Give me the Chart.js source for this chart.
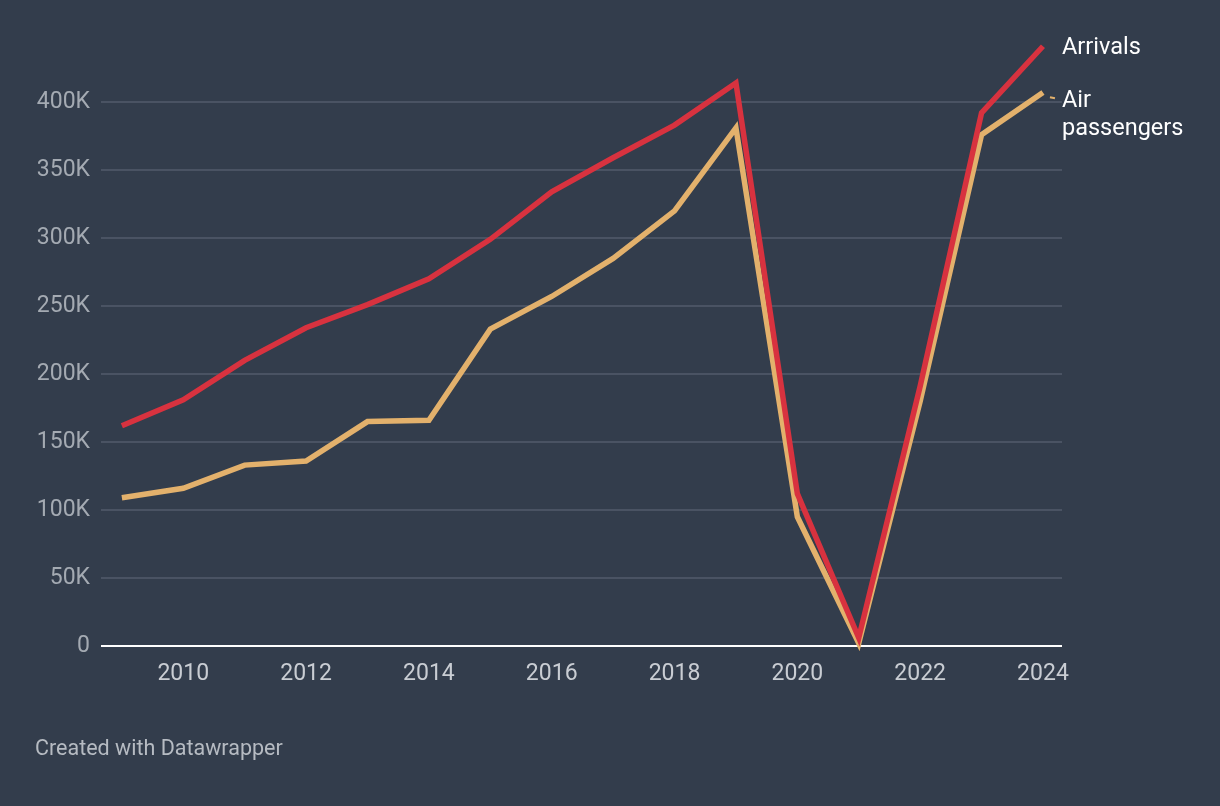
<!DOCTYPE html>
<html lang="en">
<head>
  <meta charset="UTF-8">
  <title>Arrivals and air passengers</title>
  <script src="https://cdn.jsdelivr.net/npm/chart.js"></script>
  <style>
    html, body {
      margin: 0;
      padding: 0;
      background-color: #333d4c;
      font-family: Roboto, Arial, sans-serif;
    }
    #wrap {
      position: relative;
      width: 1220px;
      height: 806px;
    }
    #credit {
      position: absolute;
      left: 35px;
      top: 735px;
      font-size: 21.5px;
      color: #b6bbc2;
    }
  </style>
</head>
<body>
  <div id="wrap">
    <canvas id="lineChart" width="1220" height="806"></canvas>
    <div id="credit">Created with Datawrapper</div>
  </div>

  <script>
    const years = [2009, 2010, 2011, 2012, 2013, 2014, 2015, 2016, 2017, 2018, 2019, 2020, 2021, 2022, 2023, 2024];
    const arrivals = [162000, 181000, 210000, 234000, 251000, 270000, 299000, 334000, 359000, 383000, 414000, 112000, 6000, 191000, 392000, 441000];
    const airPassengers = [109000, 116000, 133000, 136000, 165000, 166000, 233000, 257000, 285000, 320000, 381000, 95000, 2000, 180000, 376000, 407000];
    const seriesNames = ['Arrivals', ['Air', 'passengers']];
    const yTicks = [0, 50000, 100000, 150000, 200000, 250000, 300000, 350000, 400000];
    const xTicks = [2010, 2012, 2014, 2016, 2018, 2020, 2022, 2024];

    const red = '#d8323f';
    const tan = '#e3b16c';

    // labels at the right end of each line
    const endLabels = {
      id: 'endLabels',
      afterDatasetsDraw(chart) {
        const ctx = chart.ctx;
        ctx.save();
        ctx.font = '23.5px Roboto';
        ctx.fillStyle = '#ffffff';
        ctx.textBaseline = 'middle';
        ctx.textAlign = 'left';
        const lineH = 28;
        let nextTop = -Infinity;
        chart.data.datasets.forEach((ds, i) => {
          const meta = chart.getDatasetMeta(i);
          const last = meta.data[meta.data.length - 1];
          const lines = Array.isArray(seriesNames[i]) ? seriesNames[i] : [seriesNames[i]];
          const y = Math.max(last.y, nextTop + lineH / 2);
          const x = chart.chartArea.right;
          if (y - last.y > 3) {
            ctx.strokeStyle = ds.borderColor;
            ctx.lineWidth = 2;
            ctx.beginPath();
            ctx.moveTo(last.x + 7, y - 2);
            ctx.lineTo(last.x + 12, y - 1);
            ctx.stroke();
          }
          lines.forEach((t, k) => ctx.fillText(t, x, y + 1.5 + k * lineH));
          nextTop = y + (lines.length - 1) * lineH + lineH / 2 + 25;
        });
        ctx.restore();
      }
    };

    new Chart(document.getElementById('lineChart'), {
      type: 'line',
      data: {
        labels: years,
        datasets: [
          {
            label: 'Arrivals',
            data: years.map((y, i) => ({ x: y, y: arrivals[i] })),
            borderColor: red,
            borderWidth: 5.5,
            pointRadius: 0,
            tension: 0,
            clip: false
          },
          {
            label: 'Air passengers',
            data: years.map((y, i) => ({ x: y, y: airPassengers[i] })),
            borderColor: tan,
            borderWidth: 5.5,
            pointRadius: 0,
            tension: 0,
            clip: false
          }
        ]
      },
      plugins: [endLabels],
      options: {
        responsive: false,
        animation: false,
        layout: { padding: { left: 0, right: 158, top: 34, bottom: 0 } },
        plugins: {
          legend: { display: false },
          tooltip: { enabled: false }
        },
        scales: {
          x: {
            type: 'linear',
            min: 2008.66,
            max: 2024.31,
            afterBuildTicks: s => { s.ticks = xTicks.map(v => ({ value: v })); },
            afterFit: s => { s.height = 160; },
            grid: { display: false, drawTicks: false },
            border: { display: false },
            ticks: {
              color: '#c9cdd3',
              font: { family: 'Roboto', size: 23 },
              padding: 14,
              maxRotation: 0,
              callback: v => String(v)
            }
          },
          y: {
            min: 0,
            max: 450000,
            afterBuildTicks: s => { s.ticks = yTicks.map(v => ({ value: v })); },
            afterFit: s => { s.width = 101; },
            grid: {
              drawTicks: false,
              lineWidth: 2,
              color: c => c.tick.value === 0 ? '#ffffff' : '#4a5363'
            },
            border: { display: false },
            ticks: {
              color: '#a4aab2',
              font: { family: 'Roboto', size: 23 },
              padding: 11,
              callback: v => v === 0 ? '0' : (v / 1000) + 'K'
            }
          }
        }
      }
    });
  </script>
</body>
</html>
